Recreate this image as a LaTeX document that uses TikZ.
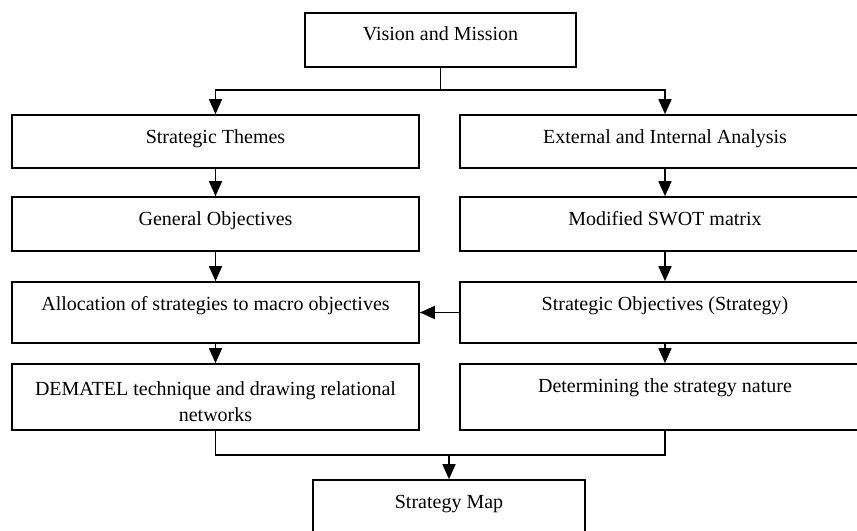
\documentclass[tikz,border=0pt]{standalone}
\usepackage{fontspec}
\setmainfont{Liberation Serif}
\usetikzlibrary{arrows.meta,calc}
\begin{document}
\begin{tikzpicture}[x=0.75pt,y=-0.75pt,
  line width=1.25pt,
  box/.style 2 args={draw, rectangle, inner sep=0pt,
    minimum width=#1*0.75pt, minimum height=#2*0.75pt},
  label/.style={inner sep=0pt, align=center, anchor=base,
    font=\fontsize{15}{19.5}\selectfont},
  arr/.style={-{Triangle[length=11.25pt,width=9.75pt]}},
]
\useasboundingbox (0,0) rectangle (857,531);
\clip (0,0) rectangle (857,531);
\fill[white] (0,0) rectangle (857,531);

% top and bottom boxes
\node[box={271}{54}] (vm) at (440.5,40) {};
\node[box={272}{60}] (sm) at (449,510) {};

% left column
\node[box={407}{53}] (st) at (215.5,141.5) {};
\node[box={407}{54}] (go) at (215.5,224) {};
\node[box={407}{61}] (al) at (215.5,312.5) {};
\node[box={407}{66}] (de) at (215.5,397) {};

% right column
\node[box={410}{53}] (ea) at (665,141.5) {};
\node[box={410}{54}] (sw) at (665,224) {};
\node[box={410}{61}] (so) at (665,312.5) {};
\node[box={410}{66}] (dn) at (665,397) {};

% captions, baseline a fixed distance below the top of each box
\node[label] (vmT) at ($(vm.north)+(0,28)$) {Vision and Mission};
\node[label] (smT) at ($(sm.north)+(0,29)$) {Strategy Map};
\node[label] (stT) at ($(st.north)+(0,29)$) {Strategic Themes};
\node[label] (goT) at ($(go.north)+(0,29)$) {General Objectives};
\node[label] (alT) at ($(al.north)+(0,29)$) {Allocation of strategies to macro objectives};
\node[label, anchor=center] (deT) at ($(de.north)+(0,38)$) {DEMATEL technique and drawing relational\\networks};
\node[label] (eaT) at ($(ea.north)+(0,29)$) {External and Internal Analysis};
\node[label] (swT) at ($(sw.north)+(0,29)$) {Modified SWOT matrix};
\node[label] (soT) at ($(so.north)+(0,29)$) {Strategic Objectives (Strategy)};
\node[label] (dnT) at ($(dn.north)+(0,29)$) {Determining the strategy nature};

% split below the top box
\coordinate (split) at (440.5,90);
\draw (vm.south) -- (split);
\draw[arr] (split) -| (st.north);
\draw[arr] (split) -| (ea.north);

% column flows
\draw[arr] (st.south) -- (go.north);
\draw[arr] (go.south) -- (al.north);
\draw[arr] (al.south) -- (de.north);
\draw[arr] (ea.south) -- (sw.north);
\draw[arr] (sw.south) -- (so.north);
\draw[arr] (so.south) -- (dn.north);
\draw[arr] (so.west) -- (al.east);

% merge into the strategy map
\coordinate (merge) at (449,455);
\draw (de.south) |- (merge) -| (dn.south);
\draw[arr] (merge) -- (sm.north);
\end{tikzpicture}
\end{document}
